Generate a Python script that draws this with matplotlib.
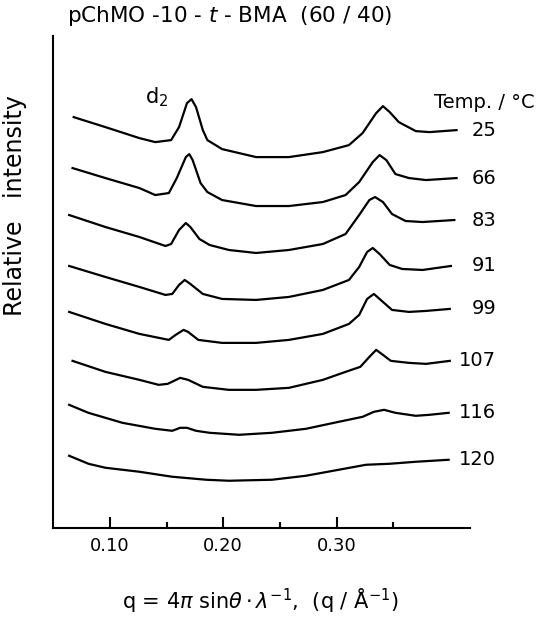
import matplotlib.pyplot as plt

plt.rcParams['font.family'] = ['DejaVu Sans']
plt.rcParams['mathtext.fontset'] = 'dejavusans'

# temperatures (deg C), top to bottom
temps = ["25", "66", "83", "91", "99", "107", "116", "120"]

# q in 1/Angstrom, intensity in arbitrary units (stacked curves)
q_25 = [0.068, 0.096, 0.126, 0.140, 0.154, 0.161, 0.168, 0.172, 0.176, 0.182, 0.186, 0.199,
        0.229, 0.258, 0.288, 0.311, 0.323, 0.335, 0.341, 0.347, 0.355, 0.370, 0.382, 0.406]
i_25 = [411, 401, 390, 386, 388, 401, 425, 429, 421, 398, 388, 379,
        371, 371, 376, 383, 395, 415, 422, 416, 406, 397, 396, 398]

q_66 = [0.067, 0.096, 0.126, 0.140, 0.152, 0.159, 0.167, 0.170, 0.173, 0.180, 0.186, 0.199,
        0.229, 0.258, 0.288, 0.308, 0.320, 0.332, 0.338, 0.344, 0.352, 0.364, 0.379, 0.406]
i_66 = [360, 350, 340, 333, 335, 350, 371, 374, 368, 345, 336, 328,
        322, 322, 326, 333, 346, 366, 373, 368, 354, 350, 348, 350]

q_83 = [0.064, 0.096, 0.126, 0.149, 0.154, 0.161, 0.167, 0.171, 0.179, 0.188, 0.205,
        0.229, 0.258, 0.288, 0.308, 0.320, 0.329, 0.334, 0.341, 0.349, 0.361, 0.376, 0.404]
i_83 = [313, 301, 291, 282, 284, 298, 305, 301, 289, 283, 278,
        275, 278, 284, 294, 313, 328, 331, 326, 314, 307, 306, 308]

q_91 = [0.064, 0.096, 0.126, 0.149, 0.155, 0.161, 0.166, 0.171, 0.182, 0.199, 0.229,
        0.258, 0.288, 0.311, 0.320, 0.327, 0.332, 0.338, 0.347, 0.358, 0.376, 0.401]
i_91 = [262, 251, 241, 233, 234, 243, 248, 244, 234, 229, 228,
        231, 238, 248, 261, 276, 280, 274, 263, 259, 258, 262]

q_99 = [0.064, 0.096, 0.126, 0.152, 0.158, 0.165, 0.169, 0.178, 0.199, 0.229, 0.258,
        0.288, 0.311, 0.320, 0.327, 0.333, 0.339, 0.349, 0.364, 0.379, 0.400]
i_99 = [216, 204, 194, 188, 193, 198, 196, 188, 185, 185, 188,
        194, 204, 213, 229, 234, 228, 218, 216, 217, 219]

q_107 = [0.067, 0.096, 0.126, 0.143, 0.151, 0.162, 0.169, 0.182, 0.205, 0.229, 0.258,
         0.288, 0.308, 0.321, 0.329, 0.335, 0.341, 0.348, 0.364, 0.379, 0.400]
i_107 = [167, 156, 148, 143, 144, 150, 148, 141, 138, 138, 140,
         148, 156, 161, 171, 178, 173, 167, 165, 164, 167]

q_116 = [0.064, 0.081, 0.111, 0.140, 0.155, 0.162, 0.168, 0.176, 0.188, 0.214, 0.243,
         0.273, 0.302, 0.323, 0.333, 0.342, 0.352, 0.370, 0.382, 0.399]
i_116 = [123, 115, 105, 99, 97, 100, 100, 97, 95, 93, 95,
         99, 106, 111, 116, 118, 115, 112, 113, 115]

q_120 = [0.064, 0.081, 0.096, 0.126, 0.155, 0.185, 0.205, 0.243, 0.273, 0.302, 0.326,
         0.347, 0.370, 0.399]
i_120 = [72, 64, 60, 56, 51, 48, 47, 48, 52, 58, 63, 64, 66, 68]

curves = [(q_25, i_25), (q_66, i_66), (q_83, i_83), (q_91, i_91),
          (q_99, i_99), (q_107, i_107), (q_116, i_116), (q_120, i_120)]

fig = plt.figure(figsize=(5.4, 6.19), dpi=100)
ax = fig.add_axes([0.0987, 0.1475, 0.772, 0.794])

for (q, inten), t in zip(curves, temps):
    ax.plot(q, inten, color="black", linewidth=1.6, solid_joinstyle="round")
    ax.text(0.441, inten[-1], t, ha="right", va="center", fontsize=14, clip_on=False)

ax.set_xlim(0.05, 0.418)
ax.set_ylim(0, 492)
for side in ["top", "right"]:
    ax.spines[side].set_visible(False)
for side in ["left", "bottom"]:
    ax.spines[side].set_linewidth(1.5)

ax.set_xticks([0.10, 0.20, 0.30])
ax.set_xticklabels(["0.10", "0.20", "0.30"], fontsize=13)
ax.set_xticks([0.15, 0.25, 0.35], minor=True)
ax.set_yticks([])
ax.tick_params(axis="x", which="major", direction="in", length=8, width=1.5, pad=7)
ax.tick_params(axis="x", which="minor", direction="in", length=4.5, width=1.5)

ax.text(0.131, 425, r"d$_2$", fontsize=15, ha="left", va="baseline")

fig.text(67 / 540, 1 - 16 / 619, r"pChMO -10 - $\mathit{t}$ - BMA  (60 / 40)",
         fontsize=15.5, ha="left", va="center")
fig.text(434 / 540, 1 - 103 / 619, "Temp. / °C", fontsize=14, ha="left", va="center")
fig.text(15 / 540, 1 - 206 / 619, "Relative   intensity", fontsize=17,
         rotation=90, ha="center", va="center")
fig.text(260 / 540, 1 - 601 / 619,
         r"q = 4$\pi$ sin$\theta\cdot\lambda^{-1}$,  (q / Å$^{-1}$)",
         fontsize=15, ha="center", va="center")

fig.savefig("out.png", dpi=100)
